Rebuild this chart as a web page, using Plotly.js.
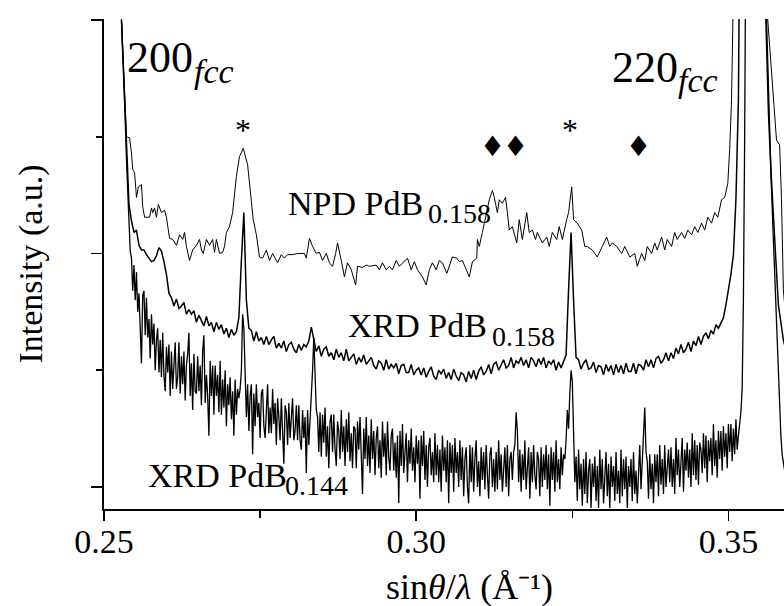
<!DOCTYPE html>
<html>
<head>
<meta charset="utf-8">
<script src="https://cdn.plot.ly/plotly-3.0.1.min.js"></script>
<style>
html,body{margin:0;padding:0;background:#ffffff;}
#chart{width:784px;height:606px;}
</style>
</head>
<body>
<div id="chart"></div>
<script>
// ---------- data ----------
// NPD PdB0.158 pattern: sin(theta)/lambda (1/Angstrom) and intensity (a.u.)
const npdX = [
0.2523,0.2528,0.2536,0.2541,0.2544,0.2546,0.2549,0.2552,0.2555,0.2560,
0.2562,0.2565,0.2573,0.2576,0.2578,0.2581,0.2584,0.2587,0.2592,0.2597,
0.2600,0.2605,0.2610,0.2616,0.2621,0.2626,0.2629,0.2632,0.2637,0.2642,
0.2648,0.2653,0.2656,0.2659,0.2664,0.2669,0.2674,0.2677,0.2680,0.2685,
0.2690,0.2693,0.2696,0.2701,0.2706,0.2712,0.2717,0.2723,0.2730,0.2733,
0.2736,0.2739,0.2744,0.2749,0.2754,0.2760,0.2765,0.2770,0.2778,0.2784,
0.2789,0.2794,0.2802,0.2810,0.2821,0.2824,0.2829,0.2834,0.2840,0.2845,
0.2850,0.2856,0.2861,0.2866,0.2871,0.2874,0.2880,0.2885,0.2890,0.2896,
0.2903,0.2906,0.2914,0.2920,0.2925,0.2936,0.2941,0.2946,0.2952,0.2957,
0.2962,0.2968,0.2973,0.2978,0.2986,0.2992,0.2997,0.3002,0.3010,0.3016,
0.3021,0.3026,0.3032,0.3037,0.3042,0.3049,0.3053,0.3058,0.3065,0.3069,
0.3074,0.3081,0.3085,0.3090,0.3097,0.3098,0.3101,0.3106,0.3113,0.3117,
0.3122,0.3125,0.3130,0.3133,0.3138,0.3143,0.3146,0.3149,0.3154,0.3161,
0.3165,0.3170,0.3177,0.3181,0.3186,0.3191,0.3194,0.3202,0.3209,0.3213,
0.3218,0.3225,0.3229,0.3234,0.3241,0.3244,0.3249,0.3252,0.3258,0.3265,
0.3270,0.3274,0.3282,0.3290,0.3298,0.3305,0.3310,0.3314,0.3321,0.3329,
0.3334,0.3342,0.3350,0.3354,0.3361,0.3366,0.3370,0.3377,0.3382,0.3386,
0.3393,0.3398,0.3402,0.3409,0.3414,0.3418,0.3425,0.3430,0.3435,0.3441,
0.3446,0.3451,0.3457,0.3462,0.3467,0.3473,0.3478,0.3483,0.3489,0.3494,
0.3499,0.3502,0.3505,0.3508,0.3513,0.3539,0.3563,0.3577,0.3582,0.3585,
0.3588,0.3591
];
const npdY = [
251.5,200,150,149.5,143,136,134.5,124,128.5,129.5,
120,115.5,115.5,119.5,117.5,119.5,115.5,121,117.5,118.5,
115.5,106.5,106,103.5,108,106,109,103,97,101.5,
103.5,106,101.5,100,106,103.5,106,100.5,106,100,
100.5,103,109,111.5,117.5,133,141.5,145,138,129.5,
121,114.5,108,98.5,98,101.5,97,100,96,99.5,
98,99.5,99.5,100,100,98,106.5,103,100,100.5,
97,100,96,94.5,100,104.5,97,90,96,93,
86.5,94.5,94,95,94.5,95,93,96,93,94.5,
93,97,94.5,96,98,93,96.5,93,90,86.5,
93,96,93,97,96,91.5,95,98.5,98,96.5,
97,93,90,96.5,98,106,103,109,117.5,123,
127,124,117.5,123,121.5,124,117.5,110,111.5,104.5,
114.5,106,117.5,109,110,106,109,104.5,107,103,
109,106,111.5,106,114.5,117.5,128.5,114.5,113,110,
103,103,101.5,98.5,103,107,103,104.5,103,100,
103,98.5,100,94.5,100,97,103,100,104.5,101.5,
107,101.5,106,103,109,106,109,106.5,110,108,
111.5,109,113,110,115.5,113,117.5,115.5,123,124,
130,144.5,166,200,280,700,200,148.5,146.5,123,
84.5,75
];

// XRD PdB0.158 pattern: constant-step scan
const xrd158Start = 0.2528;
const xrd158Step = 0.0004;
const xrd158Y = [
200,175,150,121,114,109,110,103.5,101.5,101.5,99.5,98,96.5,97,99,102.5,101,96.5,91,83,
81,77.5,80.5,76.5,77.5,79,74,76,74,75.5,70.5,73.5,71.5,69,73,69,70.5,66.5,70.5,67.5,
69.5,65.5,68,64,67.5,65,66.5,72.5,97,117.5,80,68,67,62.5,66.5,62.5,64,61,64.5,61,
63,64.5,59.5,61.5,59.5,62.5,58,61,62,59,57.5,61,58.5,61,60,62.5,68.5,63,58,60.5,
56,59,60,56,57.5,54.5,59,55.5,57.5,54,59,54,55.5,57,52.5,55.5,53.5,56.5,52.5,54,
55.5,52,50.5,54,53,50,54.5,50.5,52.5,51,53,48.5,52,52.5,49,49,52.5,48,50,51,
48,51,47,49.5,51.5,47.5,46,50,48.5,50.5,46.5,49,46,50.5,47.5,45.5,49,48,45,49.5,
46.5,50,46,49.5,51.5,48,49.5,52.5,48.5,52.5,53.5,50,52.5,54.5,51,52,55.5,51,54,53,
55.5,52,54.5,51,55.5,54,51.5,55,52.5,55.5,51,54,52.5,54.5,50,53.5,51,53.5,56.5,84.5,
109,80,55.5,54.5,50.5,53,54.5,50.5,51,53.5,49,52,51.5,48,52.5,49.5,52,48,52.5,49,
52,48.5,53,49.5,49.5,53,48.5,52.5,52,50,54.5,51.5,54.5,51,55,56,53,54.5,57.5,54,
57.5,55,59.5,57,61,57.5,59,62,58,62.5,60.5,64.5,61,64.5,66,63.5,67,65.5,69.5,68,
70.5,72.5,78,84.5,91,99.5,123,166,230,350,
600,900,1000,1000,900,700,450,270,200,161,
136,114.5,97,78,69.5,63,58.5
];

// XRD PdB0.144 pattern: constant-step scan
const xrd144Start = 0.2528;
const xrd144Step = 0.0002;
const xrd144Y = [
200,187,174,157,140,125,110,101,98,84,95,80,92,75,83,67,53,82,84,65,
81,64,72,55,74,61,70,50,63,68,49,63,47,66,48,41,60,49,61,39,
58,42,56,62,42,47,62,40,56,44,58,37,52,57,66,39,53,33,57,41,
40,56,41,52,35,58,65,36,48,39,22,54,39,52,31,52,39,48,32,54,
31,46,34,50,26,44,35,47,29,41,22,46,31,42,38,42,50,74,68,45,
30,44,24,39,44,14,40,26,44,30,36,21,40,42,26,21,36,44,23,34,
23,42,27,36,18,38,30,20,38,25,10,35,32,18,36,21,30,38,20,24,
35,20,35,20,16,33,21,30,6,33,18,28,35,50,64,48,33,30,15,32,
13,31,19,34,13,26,8,28,31,15,31,16,9,28,24,12,33,15,26,9,
29,15,32,11,23,8,26,25,8,28,16,30,12,-3,25,12,30,9,22,6,
29,12,24,5,21,26,8,20,4,28,13,23,5,28,13,7,22,25,7,19,
4,22,-7,24,9,27,6,18,23,2,20,10,25,7,17,2,22,10,20,-5,
22,9,24,3,18,0,17,21,5,15,2,23,5,18,2,16,-2,22,7,17,
2,20,-7,19,6,18,-2,21,6,15,0,20,3,17,-4,12,17,0,-7,18,
2,17,-2,12,20,0,11,-4,17,3,15,-1,18,5,-5,14,17,0,12,-2,
15,-1,20,3,14,-2,11,17,0,18,-4,12,15,3,15,18,32,24,2,16,
-2,14,3,20,-1,11,17,-5,15,2,18,5,-1,15,12,-4,17,0,14,3,
18,-1,14,-8,17,3,15,-2,20,2,12,-1,17,5,14,12,20,33,25,40,
50,45,20,2,13,-6,16,-1,10,-8,12,-3,15,-7,7,12,-9,10,0,13,
-6,9,-9,16,-1,12,-7,6,15,-4,10,-9,13,0,9,-6,15,-3,7,-7,
16,-4,12,-1,13,-9,9,0,12,-6,15,-3,7,-7,10,18,-1,11,18,34,
15,11,-5,14,-1,10,-7,14,2,14,-4,18,1,12,-3,18,0,10,16,2,
17,0,12,-3,21,5,16,0,12,21,-2,16,7,19,4,16,0,23,5,20,
3,18,1,19,16,6,23,8,22,2,20,11,21,5,27,9,20,4,24,12,
24,7,26,13,23,8,27,15,27,11,25,14,29,16,22,26,32,42,80,150,
300,500,700,900,1000,1000,1000,1000,1000,950,850,700,550,420,320,250,210,190,165,150,
135,120,105,90,75,62,45,33,22,14,9,7,6,5
];

const xTickVals = [0.25, 0.30, 0.35];
const xTickText = ['0.25', '0.30', '0.35'];
const seriesNames = ['NPD PdB0.158', 'XRD PdB0.158', 'XRD PdB0.144'];

// ---------- build ----------
const scanX = (start, step, n) => Array.from({length: n}, (_, i) => +(start + i * step).toFixed(4));
const xrd158X = scanX(xrd158Start, xrd158Step, xrd158Y.length);
const xrd144X = scanX(xrd144Start, xrd144Step, xrd144Y.length);

const serif = 'Liberation Serif, Times New Roman, serif';

const traces = [
  {x: npdX, y: npdY, name: seriesNames[0], type: 'scatter', mode: 'lines',
   line: {color: '#000000', width: 1}},
  {x: xrd158X, y: xrd158Y, name: seriesNames[1], type: 'scatter', mode: 'lines',
   line: {color: '#000000', width: 1.5}},
  {x: xrd144X, y: xrd144Y, name: seriesNames[2], type: 'scatter', mode: 'lines',
   line: {color: '#000000', width: 1.3}}
];

const ann = (o, size, extra) => Object.assign({xref: 'x', yref: 'y', showarrow: false, xanchor: 'left', yanchor: 'middle',
  font: Object.assign({family: serif, size: size || 34, color: '#000000'}, extra || {})}, o);

const layout = {
  width: 784, height: 606,
  margin: {l: 104, r: 0, t: 19, b: 97, pad: 0},
  paper_bgcolor: '#ffffff', plot_bgcolor: '#ffffff',
  showlegend: false,
  font: {family: serif, size: 34, color: '#000000'},
  xaxis: {
    range: [0.25, 0.3589],
    tickmode: 'array', tickvals: xTickVals, ticktext: xTickText,
    ticks: 'outside', ticklen: 10, tickwidth: 1.6, tickcolor: '#000000',
    ticklabelstandoff: -8,
    minor: {tickmode: 'linear', tick0: 0.25, dtick: 0.025, ticks: 'outside', ticklen: 7, tickwidth: 1.6, tickcolor: '#000000', showgrid: false},
    showline: true, linewidth: 1.6, linecolor: '#000000',
    showgrid: false, zeroline: false,
    tickfont: {family: serif, size: 34, color: '#000000'}
  },
  yaxis: {
    range: [-9.42, 200.4],
    tickmode: 'linear', tick0: 0, dtick: 100,
    showticklabels: false,
    ticks: 'outside', ticklen: 11, tickwidth: 1.6, tickcolor: '#000000',
    minor: {tickmode: 'linear', tick0: 0, dtick: 50, ticks: 'outside', ticklen: 6, tickwidth: 1.6, tickcolor: '#000000', showgrid: false},
    showline: true, linewidth: 1.6, linecolor: '#000000',
    showgrid: false, zeroline: false,
    title: {text: 'Intensity (a.u.)', font: {family: serif, size: 34, color: '#000000'}}
  },
  annotations: [
    // reflection labels: index + italic subscript
    ann({x: 0.25344, y: 184.1, text: '200'}, 44),
    ann({x: 0.26417, y: 177.9, text: 'fcc'}, 34, {style: 'italic'}),
    ann({x: 0.33096, y: 179.8, text: '220'}, 44),
    ann({x: 0.34153, y: 174.1, text: 'fcc'}, 34, {style: 'italic'}),
    // pattern labels: name + subscript composition
    ann({x: 0.27907, y: 121.4, text: 'NPD PdB'}, 34),
    ann({x: 0.30149, y: 117.1, text: '0.158'}, 28),
    ann({x: 0.28868, y: 69.2, text: 'XRD PdB'}, 34),
    ann({x: 0.31174, y: 64.4, text: '0.158'}, 28),
    ann({x: 0.25673, y: 4.9, text: 'XRD PdB'}, 34),
    ann({x: 0.27859, y: 0.6, text: '0.144'}, 28),
    // impurity markers
    ann({x: 0.27218, y: 153, xanchor: 'center', text: '*'}, 32),
    ann({x: 0.32455, y: 153, xanchor: 'center', text: '*'}, 32),
    ann({x: 0.31222, y: 145.6, xanchor: 'center', text: '♦'}, 28, {family: 'DejaVu Sans'}),
    ann({x: 0.31590, y: 145.6, xanchor: 'center', text: '♦'}, 28, {family: 'DejaVu Sans'}),
    ann({x: 0.33560, y: 145.6, xanchor: 'center', text: '♦'}, 28, {family: 'DejaVu Sans'}),
    // x-axis title
    ann({xref: 'paper', yref: 'paper', x: 0.538, y: -0.159, xanchor: 'center',
         text: 'sin<i>θ</i>/<i>λ</i> (Å⁻¹)'}, 36)
  ]
};

Plotly.newPlot('chart', traces, layout, {staticPlot: true, displayModeBar: false});
</script>
</body>
</html>
